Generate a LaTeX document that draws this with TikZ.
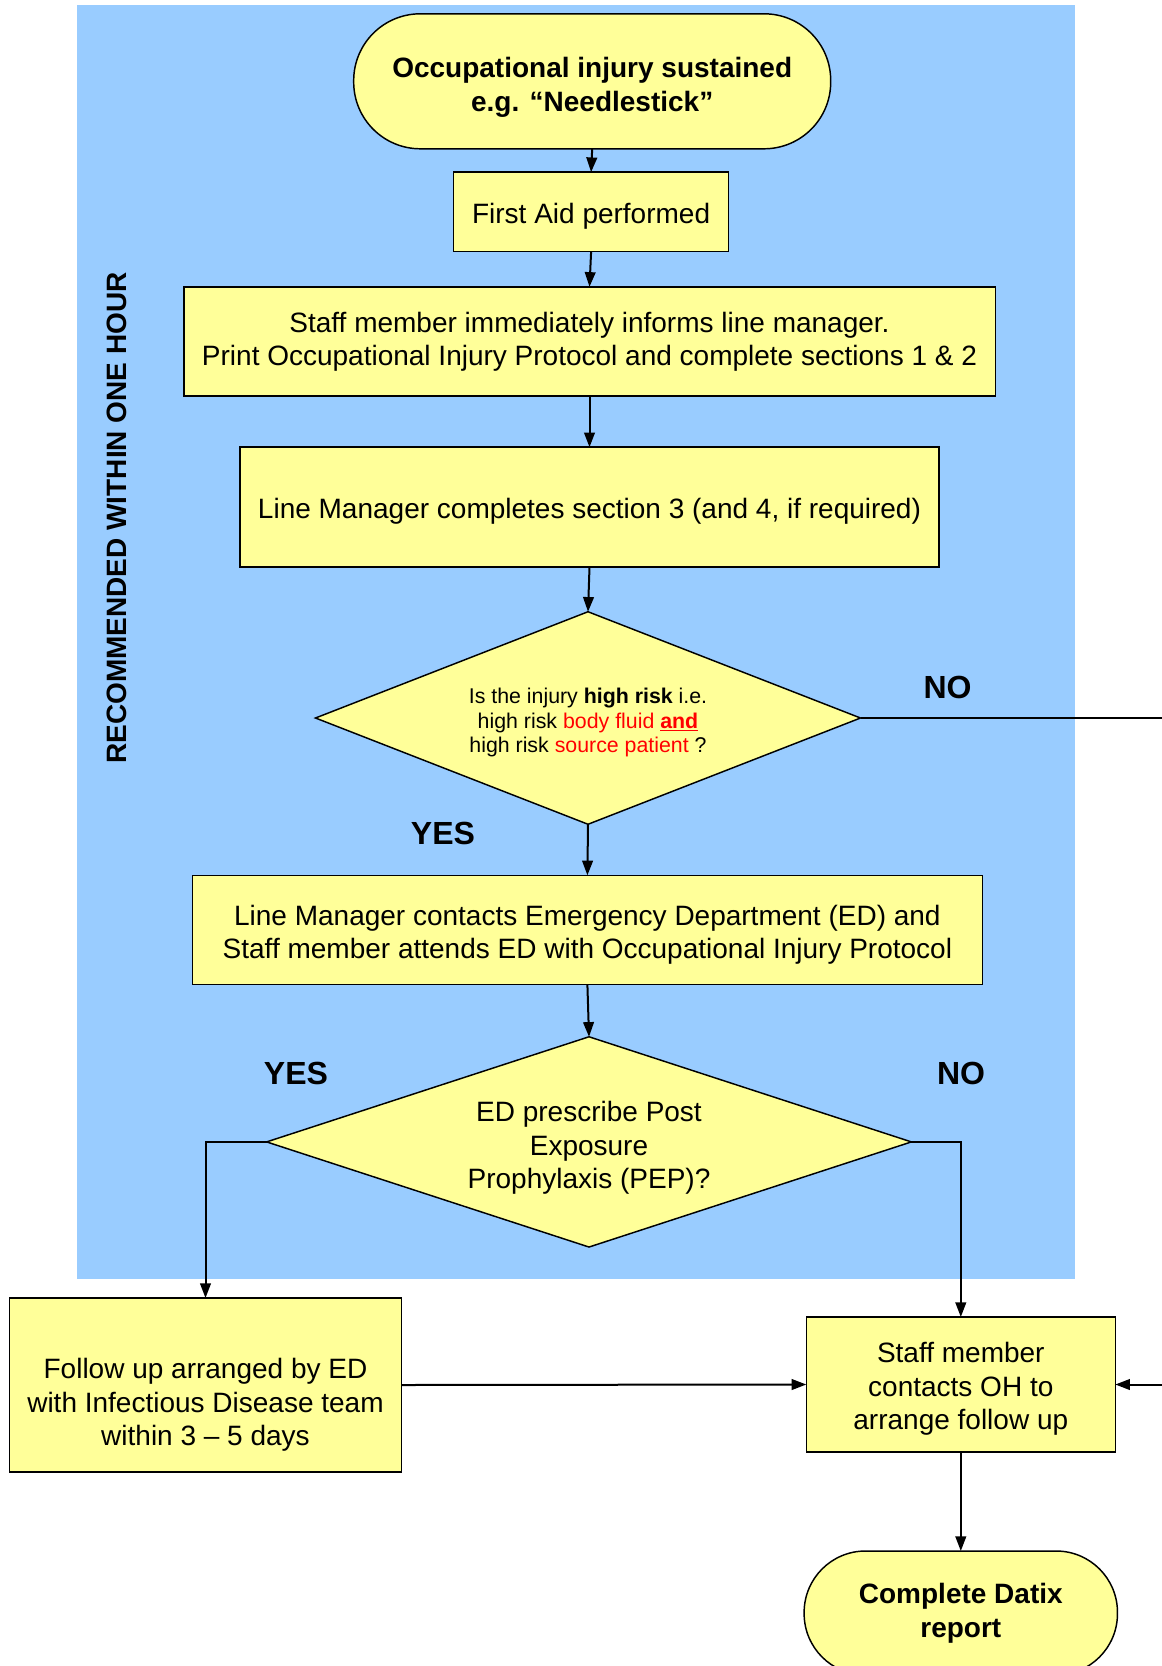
\documentclass[tikz,border=0pt]{standalone}
\usepackage{fontspec}
\setmainfont{Liberation Sans}
\usetikzlibrary{shapes.geometric,arrows.meta}
\definecolor{bgblue}{HTML}{99CCFF}
\definecolor{boxyellow}{HTML}{FFFF99}
\definecolor{txtred}{HTML}{FF0000}
\newcommand{\wstrut}{\rule[-0.212em]{0pt}{1.25em}}
\begin{document}
\begin{tikzpicture}[x=0.75pt,y=-0.75pt,
  base/.style={draw=black, line width=1.1pt, fill=boxyellow, inner sep=2pt, outer sep=0pt, align=center,
     font=\fontsize{21}{25}\selectfont, execute at begin node=\wstrut, execute at end node=\wstrut},
  procbox/.style={base, rectangle},
  termbox/.style={base, rectangle, rounded corners=#1, font=\bfseries\fontsize{21}{25.5}\selectfont},
  termbox/.default=50pt,
  decbox/.style={base, diamond, inner sep=0pt},
  conn/.style={line width=1.5pt, -{Triangle[length=11pt,width=8pt]}},
  plainline/.style={line width=1.5pt},
  lbl/.style={font=\bfseries\fontsize{24}{28}\selectfont, inner sep=0pt},
  sidelbl/.style={font=\bfseries\fontsize{21}{24.75}\selectfont, inner sep=0pt, rotate=90}
]
\useasboundingbox (0,0) rectangle (1161,1666);
\fill[white] (0,0) rectangle (1161,1666);
\fill[bgblue] (76.5,5.3) rectangle (1075,1279);

\node[sidelbl] (side) at (117,518) {RECOMMENDED WITHIN ONE HOUR};

\node[termbox=50pt, minimum width=357.75pt, minimum height=101.25pt] (start) at (592.2,81.3)
  {\rule{0pt}{24pt}Occupational injury sustained\\e.g. “Needlestick”};
\node[procbox, minimum width=206.25pt, minimum height=59.7pt] (aid) at (591.1,211.9) {First Aid performed};
\node[procbox, minimum width=608.6pt, minimum height=82.05pt] (inform) at (589.5,341.5)
  {Staff member immediately informs line manager.\\Print Occupational Injury Protocol and complete sections 1 \& 2};
\node[procbox, minimum width=524.25pt, minimum height=90pt] (lm) at (589.5,507.2)
  {Line Manager completes section 3 (and 4, if required)};
\node[decbox, aspect=2.565, minimum width=408.75pt, minimum height=159.4pt, font=\fontsize{16}{18.5}\selectfont] (risk) at (588,718)
  {\rule{0pt}{18.6pt}Is the injury \textbf{high risk} i.e.\\high risk \textcolor{txtred}{body fluid \underline{\textbf{and}}}\\high risk \textcolor{txtred}{source patient} ?};
\node[procbox, minimum width=592.5pt, minimum height=82.05pt] (ed) at (587.4,930)
  {\rule{0pt}{22pt}Line Manager contacts Emergency Department (ED) and\\Staff member attends ED with Occupational Injury Protocol};
\node[decbox, aspect=3.066, minimum width=483.6pt, minimum height=157.7pt] (pep) at (589,1141.9)
  {\rule{0pt}{24.5pt}ED prescribe Post\\Exposure\\Prophylaxis (PEP)?};
\node[procbox, minimum width=294pt, minimum height=130.5pt] (fu) at (205.5,1385)
  {\rule{0pt}{45pt}Follow up arranged by ED\\with Infectious Disease team\\within 3 – 5 days};
\node[procbox, minimum width=231.75pt, minimum height=101.25pt] (oh) at (960.8,1384.5)
  {\rule{0pt}{22pt}Staff member\\contacts OH to\\arrange follow up};
\node[termbox=46pt, minimum width=235pt, minimum height=93pt] (datix) at (960.8,1613)
  {Complete Datix\\report};

\node[lbl] (yes1) at (443,833) {YES};
\node[lbl] (no1) at (947.5,687) {NO};
\node[lbl] (yes2) at (296,1073) {YES};
\node[lbl] (no2) at (961,1073) {NO};

\coordinate (edge1) at (1170,718);
\coordinate (edge2) at (1170,1384.5);

\draw[conn] (start.south) -- (aid.north);
\draw[conn] (aid.south) -- (inform.north);
\draw[conn] (inform.south) -- (lm.north);
\draw[conn] (lm.south) -- (risk.north);
\draw[conn] (risk.south) -- (ed.north);
\draw[conn] (ed.south) -- (pep.north);
\draw[conn] (pep.west) -| (fu.north);
\draw[conn] (pep.east) -| (oh.north);
\draw[conn] (fu.east) -- (oh.west);
\draw[conn] (oh.south) -- (datix.north);
\draw[plainline] (risk.east) -- (edge1);
\draw[conn] (edge2) -- (oh.east);
\end{tikzpicture}
\end{document}
